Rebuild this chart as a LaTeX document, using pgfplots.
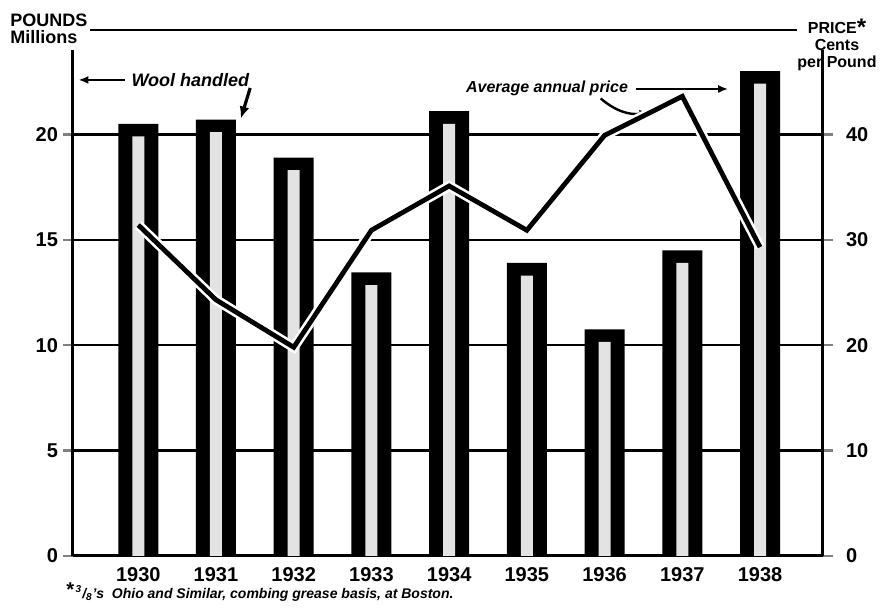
\documentclass[border=0pt]{standalone}
\usepackage{fontspec}
\setmainfont{Liberation Sans}
\usepackage{pgfplots}
\pgfplotsset{compat=1.18}
\usetikzlibrary{arrows.meta}
\begin{document}
\begin{tikzpicture}[font=\bfseries]
\begin{axis}[
  scale only axis, width=375pt, height=253pt,
  xmin=-0.84, xmax=8.81, ymin=0, ymax=24,
  axis x line=bottom, axis y line=left,
  axis line style={line width=1.5pt,-},
  xtick={0,1,2,3,4,5,6,7,8},
  xticklabels={1930,1931,1932,1933,1934,1935,1936,1937,1938},
  xtick style={draw=none},
  xticklabel style={yshift=3pt},
  ytick={0,5,10,15,20},
  tick align=outside, major tick length=5pt,
  ytick style={line width=1.2pt},
  yticklabel style={xshift=1pt},
  ymajorgrids, grid style={black, line width=1.2pt},
  /pgf/number format/assume math mode=true,
  ticklabel style={font=\bfseries},
  clip=false,
]
\addplot[ybar, bar width=20pt, bar shift=0pt, fill=black, draw=none]
  coordinates {(0,20.5) (1,20.7) (2,18.9) (3,13.45) (4,21.1) (5,13.9) (6,10.75) (7,14.5) (8,23.0)};
\addplot[ybar, bar width=6pt, bar shift=0pt, fill=gray!22, draw=none]
  coordinates {(0,19.9) (1,20.1) (2,18.3) (3,12.85) (4,20.5) (5,13.3) (6,10.15) (7,13.9) (8,22.4)};
% top rule
\draw[line width=1.2pt] (axis cs:-0.62,24.95) -- (axis cs:8.48,24.95);
% titles
\node[anchor=north west, align=left, inner sep=0pt, font=\fontsize{9}{8.5}\selectfont\bfseries] at (axis cs:-1.65,25.75)
  {POUNDS\\Millions};
\node[anchor=north, align=center, inner sep=0pt, font=\fontsize{8}{8.6}\selectfont\bfseries] at (axis cs:8.99,25.5)
  {PRICE\raisebox{-1pt}{\large*}\\Cents\\per Pound};
% annotations
\node[font=\small\bfseries\itshape, inner sep=0pt] at (axis cs:0.67,22.58) {Wool handled};
\draw[-{Latex[length=5pt,width=4pt]}, line width=1pt] (axis cs:-0.17,22.58) -- (axis cs:-0.77,22.58);
\draw[-{Latex[length=6pt,width=5pt]}, line width=1.6pt] (axis cs:1.44,22.2) -- (axis cs:1.32,20.75);
\node[font=\footnotesize\bfseries\itshape, inner sep=0pt] at (axis cs:5.26,22.2) {Average annual price};
\draw[-{Latex[length=5pt,width=4pt]}, line width=1pt] (axis cs:6.40,22.15) -- (axis cs:7.59,22.15);
\draw[-{Latex[length=5pt,width=4pt]}, line width=1.2pt] (axis cs:5.95,21.7) to[bend right=25] (axis cs:6.58,21.05);
% footnote
\node[anchor=west, font=\scriptsize\bfseries\itshape, inner sep=0pt] at (axis cs:-0.94,-1.72)
  {\raisebox{1pt}{\normalsize*}\,\textsuperscript{3}/\textsubscript{8}'s\ \ Ohio and Similar, combing grease basis, at Boston.};
\path (rel axis cs:-0.0973,-0.1087) rectangle (rel axis cs:1.0827,1.0988);
\end{axis}
\begin{axis}[
  scale only axis, width=375pt, height=253pt,
  xmin=-0.84, xmax=8.81, ymin=0, ymax=48,
  axis x line=none, axis y line=right,
  axis line style={line width=1.5pt,-},
  ytick={0,10,20,30,40},
  tick align=outside, major tick length=5pt,
  ytick style={line width=1.2pt},
  yticklabel style={xshift=3pt},
  /pgf/number format/assume math mode=true,
  ticklabel style={font=\bfseries},
]
\addplot[white, line width=5pt, line join=miter]
  coordinates {(0,31.4) (1,24.3) (2,19.8) (3,30.9) (4,35.1) (5,30.9) (6,39.9) (7,43.6) (8,29.3)};
\addplot[black, line width=2.4pt, line join=miter]
  coordinates {(0,31.4) (1,24.3) (2,19.8) (3,30.9) (4,35.1) (5,30.9) (6,39.9) (7,43.6) (8,29.3)};
\end{axis}
\end{tikzpicture}
\end{document}
